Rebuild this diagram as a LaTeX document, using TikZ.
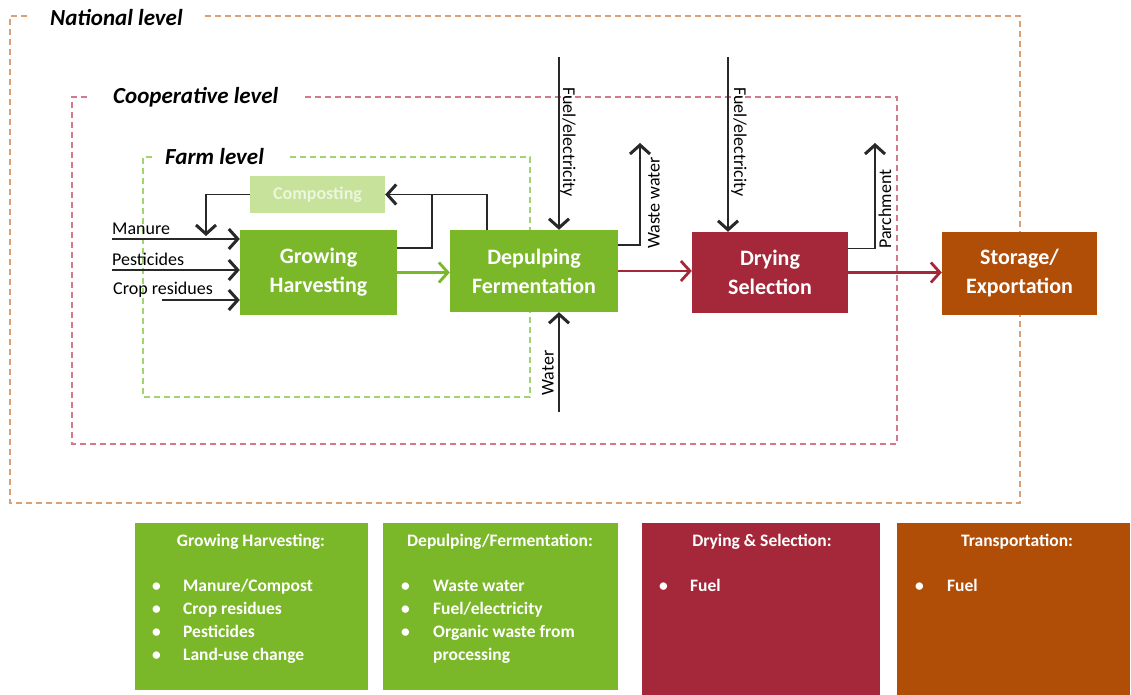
\documentclass[tikz,border=0pt]{standalone}
\usepackage{fontspec}
\setmainfont{Carlito}
\usetikzlibrary{arrows.meta}
\definecolor{cgreen}{RGB}{122,184,41}
\definecolor{cred}{RGB}{165,40,58}
\definecolor{corange}{RGB}{176,78,8}
\definecolor{clight}{RGB}{198,226,155}
\definecolor{clighttext}{RGB}{236,245,222}
\definecolor{natc}{RGB}{218,160,120}
\definecolor{coopc}{RGB}{212,120,140}
\definecolor{farmc}{RGB}{160,212,110}
\definecolor{linec}{RGB}{40,40,40}
\begin{document}
\begin{tikzpicture}[x=1pt,y=-1pt,
  proc/.style={rectangle, inner sep=0pt, text=white, align=center,
    font=\fontsize{22}{29}\selectfont\bfseries},
  infobox/.style={rectangle, inner sep=0pt},
  infotitle/.style={text=white, inner sep=0pt, font=\fontsize{17.5}{21}\selectfont\bfseries},
  infolist/.style={text=white, inner sep=0pt, anchor=base west, font=\fontsize{17.5}{23}\selectfont\bfseries},
  lvl/.style={inner sep=0pt, font=\fontsize{23}{27}\selectfont\bfseries\itshape},
  lbl/.style={inner sep=0pt, font=\fontsize{18}{21}\selectfont},
  conn/.style={draw=linec, line width=1.8pt},
  barb/.style={-{Straight Barb[length=9pt,width=20pt,line width=3pt]}},
  cbarb/.style={line width=2.8pt,-{Straight Barb[length=9pt,width=20pt,line width=2.8pt]}},
  natdash/.style={draw=natc, line width=1.6pt, dash pattern=on 6pt off 4pt},
  coopdash/.style={draw=coopc, line width=1.6pt, dash pattern=on 6pt off 4pt},
  farmdash/.style={draw=farmc, line width=1.6pt, dash pattern=on 6pt off 4pt},
]
\useasboundingbox (0,0) rectangle (1131,695);

% level frames
\draw[natdash] (205,16) -- (1020,16) -- (1020,503) -- (10,503) -- (10,16) -- (30,16);
\draw[coopdash] (305,97) -- (897,97) -- (897,444) -- (72,444) -- (72,97) -- (90,97);
\draw[farmdash] (290,157) -- (530,157) -- (530,397) -- (143,397) -- (143,157) -- (152,157);
\node[lvl, anchor=west] (nat) at (50,18) {National level};
\node[lvl, anchor=west] (coop) at (113,97) {Cooperative level};
\node[lvl, anchor=west] (farm) at (165,157) {Farm level};

% process boxes
\node[proc, fill=clight, text=clighttext, minimum width=135pt, minimum height=37pt,
  font=\fontsize{18}{21}\selectfont\bfseries] (comp) at (317.5,194.5) {Composting};
\node[proc, fill=cgreen, minimum width=157pt, minimum height=85pt] (grow) at (318.5,272.5) {Growing\\Harvesting};
\node[proc, fill=cgreen, minimum width=168pt, minimum height=82pt] (dep) at (534,271) {Depulping\\Fermentation};
\node[proc, fill=cred, minimum width=156pt, minimum height=81pt] (dry) at (770,272.5) {Drying\\Selection};
\node[proc, fill=corange, minimum width=155pt, minimum height=83pt] (stor) at (1019.5,273.5) {Storage/\\Exportation};

% inputs to growing
\coordinate (m0) at (112,239);
\coordinate (p0) at (112,270);
\coordinate (c0) at (162,300);
\draw[conn,barb] (m0) -- (m0 -| grow.west);
\draw[conn,barb] (p0) -- (p0 -| grow.west);
\draw[conn,barb] (c0) -- (c0 -| grow.west);
\node[lbl, anchor=base west] (lm) at (112,234) {Manure};
\node[lbl, anchor=base west] (lp) at (112,265) {Pesticides};
\node[lbl, anchor=base west] (lc) at (113,294) {Crop residues};

% composting loop
\coordinate (j) at (432,195);
\coordinate (cm) at (206,236);
\draw[conn] ([yshift=24.5pt]grow.east) -| (j);
\draw[conn,barb] (dep.north -| 487,0) |- (comp.east);
\draw[conn,barb] (comp.west) -| (cm);

% main flow
\draw[cgreen,cbarb] (grow.east) -- (grow.east -| dep.west);
\draw[cred,cbarb] (dep.east) -- (dep.east -| dry.west);
\draw[cred,cbarb] (dry.east) -- (dry.east -| stor.west);

% fuel / water
\coordinate (f1) at (559,57);
\coordinate (f2) at (728,57);
\coordinate (w0) at (559,412);
\coordinate (ww) at (640,143);
\coordinate (pa) at (875,143);
\draw[conn,barb] (f1) -- (f1 |- dep.north);
\draw[conn,barb] (f2) -- (f2 |- dry.north);
\draw[conn,barb] (w0) -- (w0 |- dep.south);
\draw[conn,barb] ([yshift=26pt]dep.east) -| (ww);
\draw[conn,barb] ([yshift=24pt]dry.east) -| (pa);
\node[lbl, rotate=-90] (lf1) at (568,142) {Fuel/electricity};
\node[lbl, rotate=-90] (lf2) at (739,142) {Fuel/electricity};
\node[lbl, rotate=90] (lw) at (548,373) {Water};
\node[lbl, rotate=90] (lww) at (654,203) {Waste water};
\node[lbl, rotate=90] (lpa) at (885,209) {Parchment};

% info boxes
\node[infobox, fill=cgreen, minimum width=233pt, minimum height=167pt] (b1) at (251.5,606.5) {};
\node[infobox, fill=cgreen, minimum width=235pt, minimum height=167pt] (b2) at (500.5,606.5) {};
\node[infobox, fill=cred, minimum width=238pt, minimum height=172pt] (b3) at (761,609) {};
\node[infobox, fill=corange, minimum width=233pt, minimum height=172pt] (b4) at (1013.5,609) {};

\node[infotitle] (t1) at (251,542) {Growing Harvesting:};
\node[infotitle] (t2) at (500,542) {Depulping/Fermentation:};
\node[infotitle] (t3) at (762,542) {Drying \& Selection:};
\node[infotitle] (t4) at (1017,542) {Transportation:};

\node[infolist] (l1) at (152,591) {\begin{tabular}[t]{@{}p{31pt}@{}l@{}}
\textbullet & Manure/Compost\\ \textbullet & Crop residues\\ \textbullet & Pesticides\\ \textbullet & Land-use change\end{tabular}};
\node[infolist] (l2) at (401,591) {\begin{tabular}[t]{@{}p{32pt}@{}l@{}}
\textbullet & Waste water\\ \textbullet & Fuel/electricity\\ \textbullet & Organic waste from\\ & processing\end{tabular}};
\node[infolist] (l3) at (659,591) {\begin{tabular}[t]{@{}p{31pt}@{}l@{}}
\textbullet & Fuel\end{tabular}};
\node[infolist] (l4) at (915,591) {\begin{tabular}[t]{@{}p{32pt}@{}l@{}}
\textbullet & Fuel\end{tabular}};
\end{tikzpicture}
\end{document}
